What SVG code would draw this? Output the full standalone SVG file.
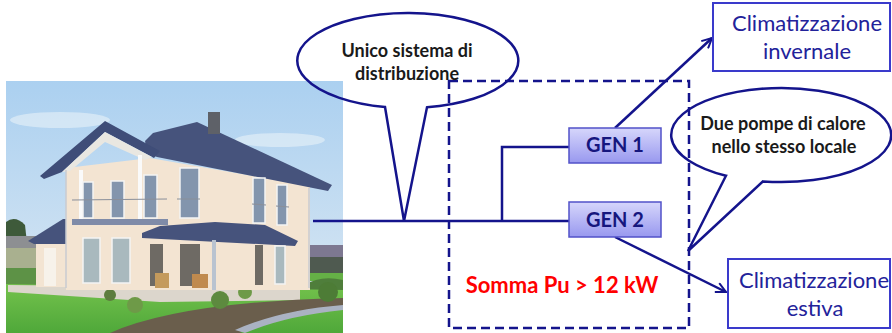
<svg xmlns="http://www.w3.org/2000/svg" width="892" height="333" viewBox="0 0 892 333">
<defs>
<linearGradient id="sky" x1="0" y1="0" x2="0" y2="1">
<stop offset="0" stop-color="#abd0f0"/>
<stop offset="1" stop-color="#dde9f3"/>
</linearGradient>
<linearGradient id="gen" x1="0" y1="0" x2="0" y2="1">
<stop offset="0" stop-color="#d6d6fb"/>
<stop offset="1" stop-color="#9898ef"/>
</linearGradient>
<linearGradient id="lawn" x1="0" y1="0" x2="0" y2="1">
<stop offset="0" stop-color="#74c24c"/>
<stop offset="1" stop-color="#4fa83a"/>
</linearGradient>
<marker id="arr" viewBox="0 0 12 12" refX="11" refY="6" markerWidth="12" markerHeight="12" markerUnits="userSpaceOnUse" orient="auto">
<path d="M1,1 L11,6 L1,11" fill="none" stroke="#14148c" stroke-width="2"/>
</marker>
<style>
.ln{fill:none;stroke:#14148c;stroke-width:2.5}
.dash{fill:none;stroke:#14148c;stroke-width:2.5;stroke-dasharray:9 5}
.call{fill:none;stroke:#14148c;stroke-width:2.5;stroke-linejoin:miter}
.ct{font-family:Lato,"Liberation Sans",sans-serif;font-weight:bold;font-size:18px;fill:#1a1a1a;text-anchor:middle}
.gen{fill:url(#gen);stroke:#5252c9;stroke-width:1.5}
.gt{font-family:Lato,"Liberation Sans",sans-serif;font-weight:bold;font-size:20px;fill:#16167e;text-anchor:middle}
.box{fill:#ffffff;stroke:#3a3acb;stroke-width:2}
.bt{font-family:Lato,"Liberation Sans",sans-serif;font-size:22px;fill:#22229a;text-anchor:middle}
.red{font-family:Lato,"Liberation Sans",sans-serif;font-weight:bold;font-size:22px;fill:#ff0000;text-anchor:middle}
.glass{fill:#8395ad;stroke:#f4f4f4;stroke-width:1.5}
.glass2{fill:#a9b9be;stroke:#f4f4f4;stroke-width:1.5}
.dark{fill:#6e6a64}
.roof{fill:#46537c}
.wall{fill:#f3e4d2}
</style>
</defs>
<rect width="892" height="333" fill="#ffffff"/>

<g id="photo">
<rect x="6" y="81" width="337" height="252" fill="url(#sky)"/>
<ellipse cx="60" cy="120" rx="50" ry="8" fill="#e8f1f9" opacity="0.6"/>
<ellipse cx="280" cy="140" rx="45" ry="7" fill="#e8f1f9" opacity="0.6"/>
<path d="M6,222 Q15,215 25,225 L30,270 L6,272 Z" fill="#3e5a3a"/>
<rect x="6" y="236" width="30" height="12" fill="#8d8f92"/>
<rect x="6" y="248" width="30" height="22" fill="#a9b08f"/>
<rect x="6" y="268" width="30" height="18" fill="#5d9246"/>
<rect x="310" y="245" width="33" height="12" fill="#7d7891"/>
<rect x="310" y="257" width="33" height="16" fill="#4f5a50"/>
<rect x="310" y="273" width="33" height="8" fill="#65b046"/>
<path d="M305,285 Q320,275 343,280 L343,300 L305,300 Z" fill="#4f7e3b"/>
<path d="M6,284 L343,290 L343,333 L6,333 Z" fill="url(#lawn)"/>
<path d="M8,285 L300,288 L300,300 L160,302 L8,292 Z" fill="#dcd6cc"/>
<path d="M110,333 Q180,302 343,298 L343,308 Q280,314 240,333 Z" fill="#6a5e4c"/>
<path d="M235,330 Q280,310 343,305 L343,310 Q285,316 245,333 Z" fill="#aab2c2"/>
<circle cx="110" cy="295" r="6" fill="#5d7d3f"/>
<circle cx="135" cy="305" r="8" fill="#6e9a48"/>
<circle cx="220" cy="300" r="9" fill="#5d8a3f"/>
<circle cx="245" cy="292" r="7" fill="#6e9a48"/>
<circle cx="328" cy="292" r="10" fill="#4d7c36"/>
<rect x="36" y="240" width="32" height="47" class="wall"/>
<rect x="44" y="248" width="12" height="38" fill="#f7f2ea"/>
<path d="M28,241 L63,219 L68,219 L68,244 L34,244 Z" class="roof"/>
<path d="M66,168 L150,158 L310,186 L310,290 L66,290 Z" class="wall"/>
<path d="M145,141 L153,133 L197,122 L332,185 L328,191 L157,157 L147,153 Z" class="roof"/>
<rect x="208" y="112" width="12" height="22" fill="#5e6168"/>
<path d="M40,176 L105,121 L160,151 L154,158 L105,132 L62,172 L44,179 Z" fill="#3f4d78"/>
<path d="M62,172 L105,132 L152,157 L145,160 L105,142 L70,171 Z" fill="#e9e7e1"/>
<rect x="79" y="170" width="4" height="52" fill="#fafafa"/>
<rect x="138" y="155" width="4" height="67" fill="#fafafa"/>
<rect x="83" y="182" width="10" height="36" class="glass"/>
<rect x="111" y="181" width="13" height="37" class="glass"/>
<rect x="144" y="175" width="13" height="43" class="glass"/>
<rect x="180" y="168" width="19" height="50" class="glass"/>
<rect x="253" y="178" width="12" height="45" class="glass"/>
<rect x="277" y="185" width="10" height="40" class="glass"/>
<path d="M72,200 L167,199 M177,199 L200,199 M252,204 L266,205 M276,206 L289,207" stroke="#8a8f9a" stroke-width="1.2" fill="none"/>
<rect x="72" y="219" width="96" height="6" fill="#7f8ba8"/>
<path d="M142,233 L160,226 L215,222 L265,225 L298,241 L295,246 L142,238 Z" class="roof"/>
<rect x="83" y="238" width="17" height="45" class="glass2"/>
<rect x="112" y="238" width="18" height="45" class="glass2"/>
<rect x="150" y="244" width="13" height="42" class="dark"/>
<rect x="180" y="244" width="20" height="42" class="dark"/>
<rect x="255" y="245" width="8" height="40" class="dark"/>
<rect x="275" y="246" width="10" height="38" class="glass2"/>
<rect x="212" y="240" width="4" height="50" fill="#b9c3d0"/>
<rect x="155" y="273" width="14" height="15" fill="#c49a5c"/>
<rect x="192" y="274" width="16" height="14" fill="#c08a4e"/>
<line x1="66" y1="170" x2="66" y2="288" stroke="#c9cbd0" stroke-width="1.5"/>
<line x1="309" y1="188" x2="309" y2="288" stroke="#c9cbd0" stroke-width="1.5"/>
</g>

<g id="connectors">
<line class="ln" x1="313" y1="221" x2="569" y2="221"/>
<path class="ln" d="M569,147 L502,147 L502,221"/>
<line class="ln" x1="615" y1="128" x2="712" y2="38" marker-end="url(#arr)"/>
<line class="ln" x1="615" y1="237" x2="726" y2="292" marker-end="url(#arr)"/>
</g>

<g id="boundary">
<rect class="dash" x="449" y="81" width="240" height="247"/>
</g>

<g id="callout-distribuzione">
<path class="call" d="M427,107.3 A110.5,47.5 0 1 0 385,107 L404,221 Z"/>
<text class="ct" x="407" y="57">Unico sistema di</text>
<text class="ct" x="407" y="80">distribuzione</text>
</g>

<g id="gen1">
<rect class="gen" x="569" y="128" width="92" height="35"/>
<text class="gt" x="615" y="152">GEN 1</text>
</g>
<g id="gen2">
<rect class="gen" x="569" y="202" width="92" height="35"/>
<text class="gt" x="615" y="227">GEN 2</text>
</g>

<g id="somma">
<text class="red" x="562" y="293">Somma Pu &gt; 12 kW</text>
</g>

<g id="invernale">
<rect class="box" x="713" y="3" width="177" height="68"/>
<text class="bt" x="807" y="31">Climatizzazione</text>
<text class="bt" x="807" y="59">invernale</text>
</g>

<g id="estiva">
<rect class="box" x="728" y="259" width="162" height="69"/>
<text class="bt" x="814" y="288">Climatizzazione</text>
<text class="bt" x="815" y="316">estiva</text>
</g>

<g id="callout-pompe">
<path class="call" d="M763,181.4 A110,47 0 1 0 726,175.7 L688,251 Z"/>
<text class="ct" x="783" y="130">Due pompe di calore</text>
<text class="ct" x="784" y="153">nello stesso locale</text>
</g>
</svg>
